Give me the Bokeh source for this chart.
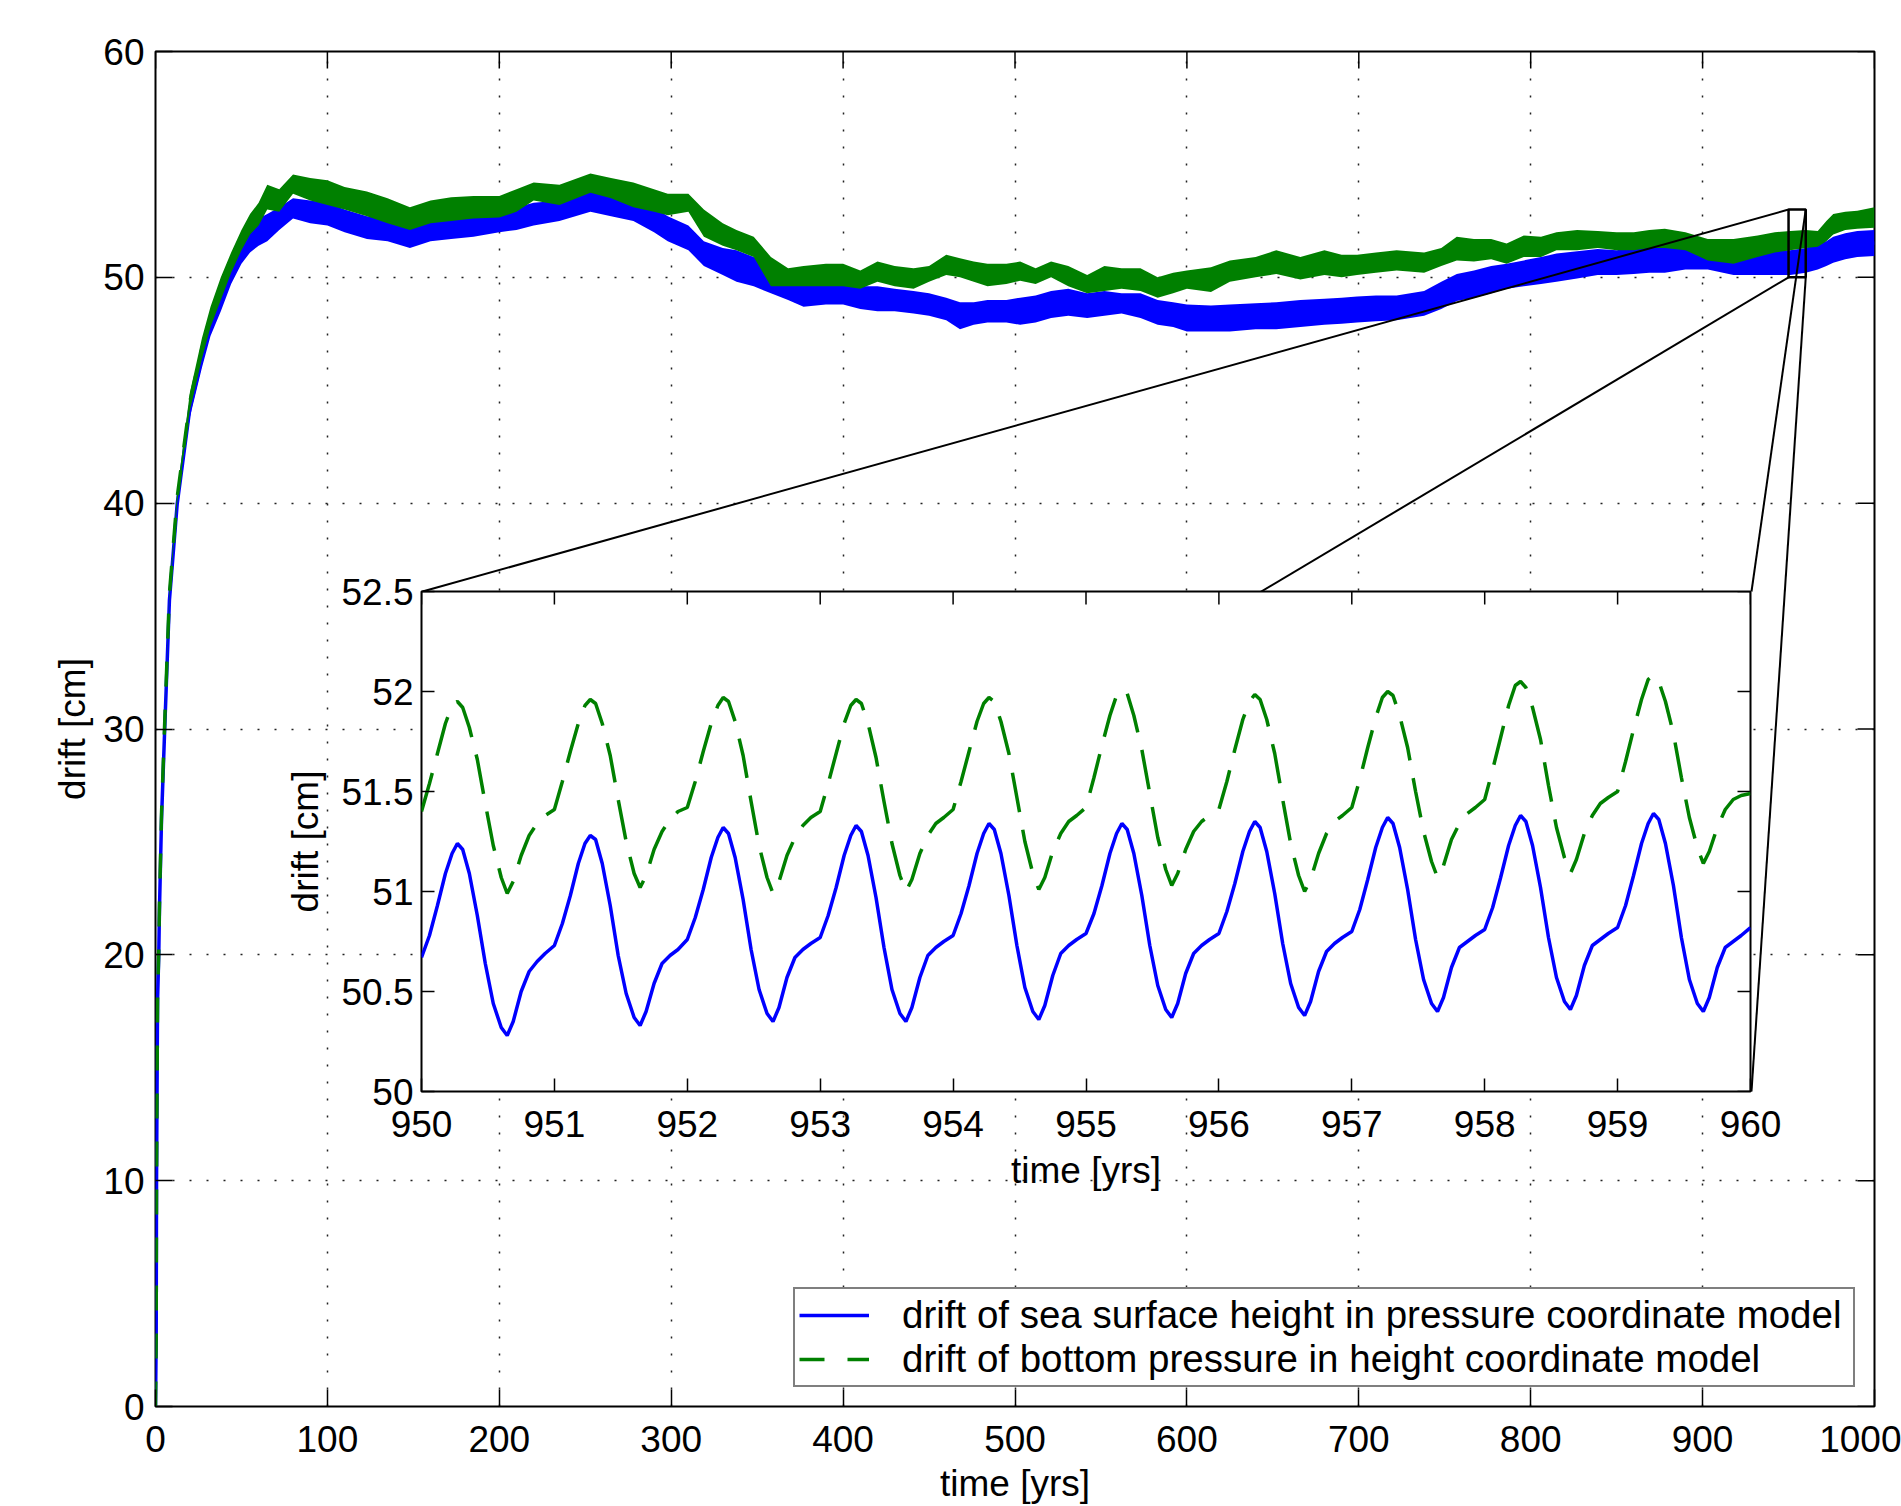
import math
from bokeh.plotting import figure
from bokeh.models import (Range1d, FixedTicker, Legend, LegendItem, ColumnDataSource, Spacer)
from bokeh.layouts import column
from bokeh.embed import file_html
from bokeh.resources import INLINE

FONT = "Liberation Sans"
BLUE = "#0000ff"
GREEN = "#008000"

# ---------------- main panel data ----------------
t_main = [0, 0.4, 0.6, 1.2, 1.9, 2.3, 3.5, 5.4, 8.1, 12.6,
          20, 27, 32, 38, 44, 50, 55, 60, 65, 72,
          80, 90, 100, 110, 123, 135, 148, 160, 172, 185,
          200, 210, 220, 235, 253, 265, 278, 290, 298, 310,
          319, 330, 338, 348, 358, 368, 377, 390, 400, 410,
          420, 430, 441, 450, 460, 468, 476, 484, 495, 503,
          512, 521, 531, 542, 552, 562, 573, 583, 592, 600,
          614, 625, 640, 652, 666, 680, 690, 699, 710, 722,
          738, 748, 757, 767, 777, 786, 796, 806, 815, 827,
          839, 850, 860, 869, 878, 890, 903, 918, 932, 942,
          951, 960, 967, 972, 976, 983, 990, 1000]

blue_lo = [0, 3, 10, 18, 20, 22, 26, 30, 35.5, 39.7,
           43.8, 46.0, 47.4, 48.5, 49.7, 50.6, 51.1, 51.4, 51.6, 52.1,
           52.6, 52.4, 52.3, 52.0, 51.7, 51.6, 51.3, 51.6, 51.7, 51.8,
           52.0, 52.1, 52.3, 52.5, 52.9, 52.7, 52.5, 52.0, 51.6, 51.2,
           50.5, 50.1, 49.8, 49.6, 49.3, 49.0, 48.7, 48.8, 48.8, 48.6,
           48.5, 48.5, 48.4, 48.3, 48.1, 47.7, 47.9, 48.0, 48.0, 47.9,
           48.0, 48.2, 48.3, 48.2, 48.3, 48.4, 48.2, 47.9, 47.8, 47.6,
           47.6, 47.6, 47.7, 47.7, 47.8, 47.9, 47.95, 48.0, 48.05, 48.1,
           48.3, 48.6, 48.95, 49.1, 49.3, 49.5, 49.6, 49.7, 49.8, 49.95,
           50.1, 50.1, 50.15, 50.2, 50.2, 50.35, 50.35, 50.1, 50.1, 50.1,
           50.1, 50.2, 50.35, 50.5, 50.65, 50.8, 50.9, 50.95]

blue_hi = [0, 3, 10, 18, 20, 22, 26, 30.2, 35.9, 40.2,
           44.6, 46.9, 48.3, 49.5, 50.7, 51.6, 52.2, 52.6, 52.8, 53.1,
           53.5, 53.4, 53.3, 53.0, 52.7, 52.6, 52.3, 52.6, 52.7, 52.8,
           53.0, 53.1, 53.3, 53.4, 53.8, 53.6, 53.5, 53.1, 52.7, 52.3,
           51.6, 51.3, 51.2, 50.9, 50.4, 50.1, 49.8, 49.8, 49.7, 49.6,
           49.6, 49.5, 49.4, 49.3, 49.1, 48.9, 48.9, 49.0, 49.0, 49.1,
           49.2, 49.4, 49.5, 49.3, 49.4, 49.3, 49.3, 49.0, 48.9, 48.8,
           48.75, 48.8, 48.85, 48.9, 49.0, 49.05, 49.1, 49.15, 49.2, 49.2,
           49.4, 49.8, 50.15, 50.3, 50.5, 50.6, 50.75, 50.9, 51.05, 51.15,
           51.25, 51.2, 51.3, 51.4, 51.4, 51.4, 51.35, 51.3, 51.2, 51.2,
           51.2, 51.3, 51.5, 51.6, 51.8, 51.95, 52.05, 52.1]

green_lo = [0, 3, 10, 18, 20.2, 22.2, 26.2, 30.3, 35.8, 40.0,
            44.1, 46.4, 47.8, 49.0, 50.2, 51.2, 51.9, 52.3, 53.0, 52.9,
            53.7, 53.4, 53.2, 53.0, 52.7, 52.4, 52.1, 52.4, 52.5, 52.6,
            52.65, 52.9, 53.4, 53.2, 53.75, 53.5, 53.1, 52.9, 52.75, 52.9,
            51.8, 51.4, 51.2, 50.9, 49.6, 49.6, 49.6, 49.6, 49.6, 49.5,
            49.8, 49.6, 49.5, 49.8, 50.1, 50.0, 49.8, 49.6, 49.7, 49.85,
            49.7, 50.0, 49.6, 49.3, 49.4, 49.5, 49.4, 49.1, 49.3, 49.5,
            49.35, 49.8, 50.0, 50.15, 49.9, 50.1, 50.0, 50.1, 50.2, 50.3,
            50.2, 50.5, 50.75, 50.7, 50.8, 50.6, 50.9, 50.9, 51.2, 51.2,
            51.3, 51.2, 51.2, 51.3, 51.3, 51.2, 50.75, 50.6, 50.9, 51.1,
            51.2, 51.3, 51.35, 51.6, 51.9, 52.1, 52.15, 52.2]

green_hi = [0, 3, 10, 18, 20.2, 22.2, 26.3, 30.5, 36.2, 40.5,
            44.9, 47.3, 48.7, 50.0, 51.1, 52.1, 52.8, 53.3, 54.1, 53.9,
            54.55, 54.4, 54.3, 54.0, 53.8, 53.5, 53.1, 53.4, 53.55, 53.6,
            53.6, 53.9, 54.2, 54.1, 54.6, 54.4, 54.2, 53.9, 53.7, 53.7,
            53.0, 52.4, 52.1, 51.8, 50.9, 50.4, 50.5, 50.6, 50.6, 50.3,
            50.7, 50.5, 50.4, 50.5, 51.0, 50.85, 50.7, 50.6, 50.6, 50.7,
            50.4, 50.7, 50.5, 50.1, 50.5, 50.4, 50.4, 50.0, 50.2, 50.3,
            50.45, 50.75, 50.9, 51.2, 50.9, 51.2, 51.0, 51.0, 51.1, 51.2,
            51.1, 51.3, 51.8, 51.7, 51.7, 51.5, 51.85, 51.8, 52.0, 52.1,
            52.05, 52.0, 52.0, 52.1, 52.15, 52.0, 51.7, 51.7, 51.85, 52.0,
            52.05, 52.1, 52.05, 52.5, 52.8, 52.9, 52.95, 53.1]

# ---------------- inset data (950-960 yrs) ----------------
inset_years = [950, 951, 952, 953, 954, 955, 956, 957, 958, 959]
inset_phase = [0.00, 0.06, 0.12, 0.18, 0.23, 0.27, 0.31, 0.36, 0.42,
               0.48, 0.54, 0.60, 0.645, 0.69, 0.75, 0.81, 0.87, 0.93]
blue_cycles = [
    [50.67, 50.78, 50.93, 51.09, 51.19, 51.24, 51.21, 51.09, 50.88, 50.64, 50.44, 50.32, 50.28, 50.35, 50.50, 50.60, 50.65, 50.69],
    [50.73, 50.84, 50.98, 51.14, 51.24, 51.28, 51.26, 51.14, 50.93, 50.68, 50.49, 50.37, 50.33, 50.40, 50.54, 50.64, 50.68, 50.71],
    [50.76, 50.87, 51.01, 51.17, 51.27, 51.32, 51.29, 51.17, 50.96, 50.71, 50.51, 50.39, 50.35, 50.42, 50.57, 50.67, 50.71, 50.74],
    [50.77, 50.88, 51.02, 51.18, 51.28, 51.33, 51.30, 51.18, 50.97, 50.72, 50.51, 50.39, 50.35, 50.42, 50.57, 50.68, 50.72, 50.75],
    [50.78, 50.89, 51.03, 51.19, 51.29, 51.34, 51.31, 51.19, 50.98, 50.73, 50.52, 50.40, 50.36, 50.43, 50.58, 50.69, 50.73, 50.76],
    [50.79, 50.89, 51.03, 51.19, 51.29, 51.34, 51.31, 51.19, 50.98, 50.73, 50.53, 50.41, 50.37, 50.44, 50.59, 50.69, 50.73, 50.76],
    [50.79, 50.90, 51.04, 51.20, 51.30, 51.35, 51.32, 51.20, 50.99, 50.74, 50.54, 50.42, 50.38, 50.45, 50.60, 50.70, 50.74, 50.77],
    [50.80, 50.91, 51.06, 51.22, 51.32, 51.37, 51.34, 51.22, 51.01, 50.76, 50.56, 50.44, 50.40, 50.47, 50.62, 50.72, 50.75, 50.78],
    [50.81, 50.92, 51.07, 51.23, 51.33, 51.38, 51.35, 51.23, 51.02, 50.77, 50.57, 50.45, 50.41, 50.48, 50.63, 50.73, 50.76, 50.79],
    [50.82, 50.93, 51.08, 51.24, 51.34, 51.39, 51.36, 51.24, 51.03, 50.77, 50.56, 50.44, 50.40, 50.47, 50.62, 50.72, 50.75, 50.78],
]
blue_end = 50.82
green_cycles = [
    [51.40, 51.54, 51.69, 51.84, 51.93, 51.95, 51.92, 51.82, 51.66, 51.44, 51.23, 51.07, 50.99, 51.05, 51.18, 51.28, 51.34, 51.38],
    [51.41, 51.55, 51.70, 51.84, 51.93, 51.96, 51.94, 51.84, 51.68, 51.46, 51.25, 51.09, 51.02, 51.08, 51.21, 51.30, 51.36, 51.40],
    [51.42, 51.55, 51.70, 51.84, 51.93, 51.97, 51.95, 51.85, 51.68, 51.45, 51.23, 51.07, 50.99, 51.05, 51.18, 51.27, 51.33, 51.37],
    [51.40, 51.54, 51.69, 51.84, 51.93, 51.96, 51.94, 51.84, 51.67, 51.45, 51.24, 51.08, 51.00, 51.06, 51.19, 51.28, 51.34, 51.37],
    [51.41, 51.55, 51.70, 51.85, 51.94, 51.97, 51.95, 51.85, 51.69, 51.47, 51.25, 51.09, 51.01, 51.07, 51.20, 51.29, 51.35, 51.38],
    [51.42, 51.57, 51.73, 51.88, 51.98, 52.01, 51.99, 51.88, 51.71, 51.49, 51.27, 51.11, 51.03, 51.09, 51.21, 51.30, 51.35, 51.38],
    [51.41, 51.55, 51.71, 51.86, 51.95, 51.985, 51.96, 51.86, 51.69, 51.46, 51.24, 51.08, 51.00, 51.06, 51.19, 51.29, 51.35, 51.38],
    [51.42, 51.56, 51.72, 51.87, 51.97, 52.00, 51.98, 51.88, 51.72, 51.50, 51.30, 51.15, 51.07, 51.13, 51.26, 51.34, 51.39, 51.42],
    [51.46, 51.61, 51.77, 51.93, 52.03, 52.05, 52.02, 51.92, 51.76, 51.53, 51.32, 51.17, 51.09, 51.16, 51.29, 51.38, 51.44, 51.47],
    [51.50, 51.65, 51.81, 51.96, 52.06, 52.08, 52.05, 51.95, 51.79, 51.57, 51.37, 51.22, 51.14, 51.20, 51.32, 51.41, 51.46, 51.48],
]
green_end = 51.49

# ticks / labels
x_ticks_main = [0, 100, 200, 300, 400, 500, 600, 700, 800, 900, 1000]
y_ticks_main = [0, 10, 20, 30, 40, 50, 60]
x_ticks_inset = [950, 951, 952, 953, 954, 955, 956, 957, 958, 959, 960]
y_ticks_inset = [50, 50.5, 51, 51.5, 52, 52.5]
y_tick_labels_inset = ["50", "50.5", "51", "51.5", "52", "52.5"]
zoom_box = [950, 960, 50, 53]   # x0, x1, y0, y1 of the zoomed region

label_blue = "drift of sea surface height in pressure coordinate model"
label_green = "drift of bottom pressure in height coordinate model"

# ---------------- layout constants (pixels, page coordinates) ----------------
PAGE_W, PAGE_H = 1901, 1506
ML, MT, MR, MB = 155, 51, 27, 100         # main borders (figure placed at 0,0)
FW, FH = 1719, 1355                       # main frame
IN_L, IN_T, IN_W, IN_H = 422, 591, 1329, 500   # inset frame on the page
IB_L, IB_T, IB_R, IB_B = 152, 22, 40, 116
INSET_NUDGE_X = -4                        # observed rendering offset of the inset

X0, X1, Y0, Y1 = 0, 1000, 0, 60


def px_to_x(px):
    return X0 + (px - ML) / FW * (X1 - X0)


def py_to_y(py):
    return Y1 - (py - MT) / FH * (Y1 - Y0)


def style_axis(ax, tick_len):
    ax.axis_line_color = None
    ax.major_tick_in = tick_len
    ax.major_tick_out = 0
    ax.minor_tick_line_color = None
    ax.major_tick_line_color = "black"
    ax.major_tick_line_width = 1.5
    ax.major_label_text_font = FONT
    ax.major_label_text_color = "black"
    ax.major_label_text_font_size = "37px"
    ax.axis_label_text_font = FONT
    ax.axis_label_text_font_size = "37px"
    ax.axis_label_text_font_style = "normal"
    ax.axis_label_text_color = "black"


# ---------------- main figure ----------------
p = figure(frame_width=FW, frame_height=FH,
           min_border_left=ML, min_border_right=MR,
           min_border_top=MT, min_border_bottom=MB,
           x_range=Range1d(X0, X1), y_range=Range1d(Y0, Y1),
           output_backend="svg", toolbar_location=None,
           background_fill_color="white", border_fill_color="white")
p.title.visible = False
p.outline_line_color = "black"
p.outline_line_width = 2

bx = p.below[0]
by = p.left[0]
bx.ticker = FixedTicker(ticks=x_ticks_main)
by.ticker = FixedTicker(ticks=y_ticks_main)
style_axis(bx, 17)
style_axis(by, 17)
bx.major_label_standoff = 19
by.major_label_standoff = 11
bx.axis_label = "time [yrs]"
bx.axis_label_standoff = 8
by.axis_label = "drift [cm]"
by.axis_label_standoff = 7

for g in (p.xgrid[0], p.ygrid[0]):
    g.grid_line_color = "#222222"
    g.grid_line_width = 1.5
    g.grid_line_dash = "2 15"

src = ColumnDataSource(dict(
    t=t_main, blo=blue_lo, bhi=blue_hi,
    bmid=[(a + b) / 2 for a, b in zip(blue_lo, blue_hi)],
    glo=green_lo, ghi=green_hi,
    gmid=[(a + b) / 2 for a, b in zip(green_lo, green_hi)]))

p.varea(x="t", y1="blo", y2="bhi", source=src, fill_color=BLUE)
r_blue = p.line("t", "bmid", source=src, line_color=BLUE, line_width=3.5)
p.varea(x="t", y1="glo", y2="ghi", source=src, fill_color=GREEN)
r_green = p.line("t", "gmid", source=src, line_color=GREEN, line_width=3.5,
                 line_dash="25 23")

# ticks on the top and right edges of the box (inward)
p.ray(x=x_ticks_main, y=[Y1] * len(x_ticks_main), length=17, angle=-math.pi / 2,
      length_units="screen", line_color="black", line_width=1.5)
p.ray(x=[X1] * len(y_ticks_main), y=y_ticks_main, length=17, angle=math.pi,
      length_units="screen", line_color="black", line_width=1.5)

# zoom box and connectors
zx0, zx1, zy0, zy1 = zoom_box
p.quad(left=[zx0], right=[zx1], bottom=[zy0], top=[zy1], fill_color=None,
       line_color="black", line_width=2.5)
ixl, ixr = px_to_x(IN_L), px_to_x(IN_L + IN_W)
iyt, iyb = py_to_y(IN_T), py_to_y(IN_T + IN_H)
p.segment(x0=[zx0, zx0, zx1, zx1], y0=[zy1, zy0, zy1, zy0],
          x1=[ixl, ixl, ixr, ixr], y1=[iyt, iyb, iyt, iyb],
          line_color="black", line_width=2)

legend = Legend(items=[LegendItem(label=label_blue, renderers=[r_blue]),
                       LegendItem(label=label_green, renderers=[r_green])],
                location="bottom_right")
legend.label_text_font = FONT
legend.label_text_font_size = "38.5px"
legend.label_text_color = "black"
legend.glyph_width = 70
legend.glyph_height = 40
legend.label_standoff = 33
legend.label_width = 947
legend.padding = 4
legend.spacing = 0
legend.margin = 19
legend.border_line_color = "black"
legend.border_line_width = 2
legend.background_fill_color = "white"
legend.background_fill_alpha = 1
p.add_layout(legend)

p.styles = {"position": "absolute", "left": "0px", "top": "0px", "z-index": "1"}

# ---------------- inset figure ----------------
inset_t = [y + ph for y in inset_years for ph in inset_phase] + [inset_years[-1] + 1]
inset_blue = [v for cyc in blue_cycles for v in cyc] + [blue_end]
inset_green = [v for cyc in green_cycles for v in cyc] + [green_end]

IX0, IX1, IY0, IY1 = 950, 960, 50, 52.5
q = figure(frame_width=IN_W, frame_height=IN_H,
           min_border_left=IB_L, min_border_right=IB_R,
           min_border_top=IB_T, min_border_bottom=IB_B,
           x_range=Range1d(IX0, IX1), y_range=Range1d(IY0, IY1),
           output_backend="svg", toolbar_location=None,
           background_fill_color="white", border_fill_color=None)
q.title.visible = False
q.outline_line_color = "black"
q.outline_line_width = 2
q.xgrid.visible = False
q.ygrid.visible = False

qx = q.below[0]
qy = q.left[0]
qx.ticker = FixedTicker(ticks=x_ticks_inset)
qy.ticker = FixedTicker(ticks=y_ticks_inset)
qy.major_label_overrides = {t: s for t, s in zip(y_ticks_inset, y_tick_labels_inset)}
style_axis(qx, 13)
style_axis(qy, 13)
qx.major_label_standoff = 19
qy.major_label_standoff = 8
qx.axis_label = "time [yrs]"
qx.axis_label_standoff = 10
qy.axis_label = "drift [cm]"
qy.axis_label_standoff = 12

q.ray(x=x_ticks_inset, y=[IY1] * len(x_ticks_inset), length=13, angle=-math.pi / 2,
      length_units="screen", line_color="black", line_width=1.5)
q.ray(x=[IX1] * len(y_ticks_inset), y=y_ticks_inset, length=13, angle=math.pi,
      length_units="screen", line_color="black", line_width=1.5)

q.line(inset_t, inset_blue, line_color=BLUE, line_width=3.5)
q.line(inset_t, inset_green, line_color=GREEN, line_width=3.5, line_dash="40 18")

q.styles = {"position": "absolute",
            "left": f"{IN_L - IB_L + INSET_NUDGE_X}px",
            "top": f"{IN_T - IB_T}px",
            "z-index": "2"}

# an in-flow spacer gives the page its size; both plots are pinned on top of it
layout = column(Spacer(width=PAGE_W, height=PAGE_H), p, q)

with open("out.html", "w") as f:
    f.write(file_html(layout, INLINE))
